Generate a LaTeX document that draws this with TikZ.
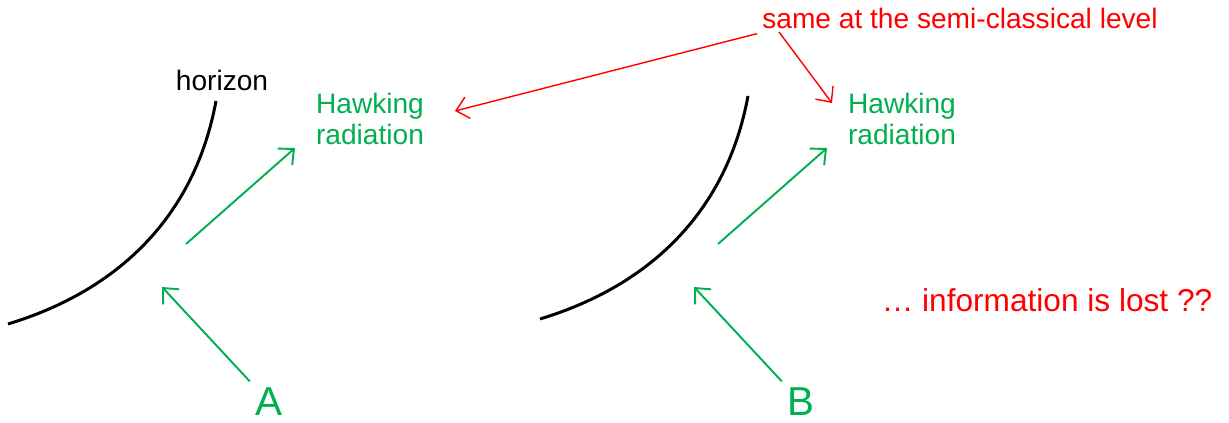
\documentclass[tikz,border=0pt]{standalone}
\usepackage{fontspec}
\setmainfont{Liberation Sans}
\usepackage{tikz}
\usetikzlibrary{arrows.meta,positioning,calc}
\usepackage{xcolor}
\definecolor{hawkgreen}{RGB}{0,176,80}
\definecolor{noteRed}{RGB}{255,0,0}

\begin{document}
\begin{tikzpicture}[
    lbl/.style={inner sep=1mm,font=\fontsize{16}{18}\selectfont,align=left},
    hawk/.style={lbl,text=hawkgreen},
    note/.style={lbl,text=noteRed},
    obs/.style={inner sep=0.5mm,font=\fontsize{23}{26}\selectfont,text=hawkgreen},
    horizonline/.style={line width=1.7pt,black},
    garrow/.style={-{Straight Barb[length=2.4mm,width=4.4mm]},line width=1.1pt,hawkgreen},
    rarrow/.style={-{Straight Barb[length=2.4mm,width=4.4mm]},line width=0.8pt,noteRed}
]
\useasboundingbox (0,0) rectangle (24.58,8.46);

% horizons
\draw[horizonline] (0.16,1.98) .. controls (2.40,2.66) and (3.90,4.16) .. (4.32,6.44);
\draw[horizonline] (10.80,2.08) .. controls (13.04,2.76) and (14.54,4.26) .. (14.96,6.54);

\node[lbl] (horizon) at (4.44,6.86) {horizon};
\node[hawk] (hawkL) at (7.40,6.08) {Hawking\\radiation};
\node[hawk] (hawkR) at (18.04,6.08) {Hawking\\radiation};
\node[obs] (A) at (5.38,0.42) {A};
\node[obs] (B) at (16.02,0.42) {B};
\node[note] (same) at (19.20,8.10) {same at the semi-classical level};
\node[note,font=\fontsize{18}{20}\selectfont] (lost) at (20.94,2.46) {\dots\ information is lost ??};

% free ends
\coordinate (inA) at (3.24,2.72);
\coordinate (inB) at (13.88,2.72);
\coordinate (outA) at (3.72,3.58);
\coordinate (outB) at (14.36,3.58);
\coordinate (tipA) at (5.90,5.50);
\coordinate (tipB) at (16.54,5.50);
\coordinate (sameL) at (9.10,6.24);
\coordinate (sameR) at (16.64,6.40);
\coordinate (startR) at (15.58,7.82);

\draw[garrow,shorten <=3pt] (A) -- (inA);
\draw[garrow,shorten <=3pt] (B) -- (inB);
\draw[garrow] (outA) -- (tipA);
\draw[garrow] (outB) -- (tipB);
\draw[rarrow] (same.south west) -- (sameL);
\draw[rarrow] (startR) -- (sameR);
\end{tikzpicture}
\end{document}
